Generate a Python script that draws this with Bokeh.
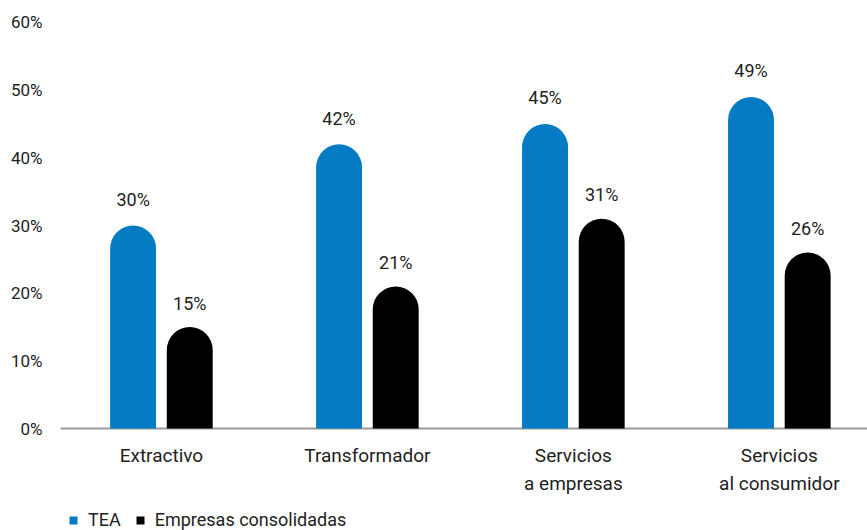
from bokeh.plotting import figure
from bokeh.models import ColumnDataSource, Legend, LegendItem, FixedTicker, Range1d, Span
from bokeh.core.properties import value
from bokeh.embed import file_html
from bokeh.resources import INLINE

categories = ["Extractivo", "Transformador", "Servicios\na empresas", "Servicios\nal consumidor"]
tea = [30, 42, 45, 49]
consolidadas = [15, 21, 31, 26]
y_ticks = [0, 10, 20, 30, 40, 50, 60]
y_tick_labels = ["0%", "10%", "20%", "30%", "40%", "50%", "60%"]
series_names = ["TEA", "Empresas consolidadas"]

BLUE = "#047bc3"
BLACK = "#000000"
TXT = "#222222"
FONT = "Roboto"
OFF = 0.1375
BW = 0.223

pos = list(range(len(categories)))
src = ColumnDataSource(dict(
    xa=[i - OFF for i in pos],
    xb=[i + OFF for i in pos],
    tea=tea,
    cons=consolidadas,
    tea_lbl=[f"{v}%" for v in tea],
    cons_lbl=[f"{v}%" for v in consolidadas],
))
cat_src = ColumnDataSource(dict(x=pos, y=[0] * len(pos), label=categories))

# frame extends to the bottom of the canvas so the legend area lies inside it
p = figure(width=867, height=530, output_backend="svg", toolbar_location=None,
           x_range=Range1d(-0.49, 3.428), y_range=Range1d(-15.07, 61.18),
           min_border_left=60, min_border_right=0, min_border_top=14, min_border_bottom=0)
p.outline_line_color = None
p.grid.visible = False
p.background_fill_color = "white"
p.border_fill_color = "white"
p.xaxis.visible = False

baseline = Span(location=0, dimension="width", line_color="#9a9a9a", line_width=2,
                level="underlay")
p.add_layout(baseline)

r1 = p.vbar(x="xa", top="tea", bottom=0, width=BW, source=src, fill_color=BLUE,
            line_color=None, border_radius=(23, 23, 0, 0))
r2 = p.vbar(x="xb", top="cons", bottom=0, width=BW, source=src, fill_color=BLACK,
            line_color=None, border_radius=(23, 23, 0, 0))

for xcol, ycol, lcol, off in (("xa", "tea", "tea_lbl", -26), ("xb", "cons", "cons_lbl", -24)):
    p.text(x=xcol, y=ycol, text=lcol, source=src, text_align="center",
           text_baseline="alphabetic", y_offset=off, text_color=TXT,
           text_font=value(FONT), text_font_size="18px")

# category labels under the baseline
p.text(x="x", y="y", text="label", source=cat_src, text_align="center",
       text_baseline="top", y_offset=15, text_color=TXT, text_line_height=1.25,
       text_font=value(FONT), text_font_size="19px")

ya = p.yaxis[0]
ya.ticker = FixedTicker(ticks=y_ticks)
ya.major_label_overrides = {t: l for t, l in zip(y_ticks, y_tick_labels)}
ya.axis_line_color = None
ya.major_tick_line_color = None
ya.major_tick_out = 0
ya.major_tick_in = 0
ya.minor_tick_line_color = None
ya.major_label_standoff = 18
ya.major_label_text_font = FONT
ya.major_label_text_font_size = "17px"
ya.major_label_text_color = TXT

legend = Legend(items=[LegendItem(label=series_names[0], renderers=[r1]),
                       LegendItem(label=series_names[1], renderers=[r2])],
                orientation="horizontal", location=(8, 0),
                border_line_color=None, background_fill_alpha=0,
                margin=0, padding=0, glyph_width=10, glyph_height=10,
                label_standoff=10, spacing=14,
                label_text_font=FONT, label_text_font_size="18px",
                label_text_color=TXT)
p.add_layout(legend, "center")

open("out.html", "w").write(file_html(p, INLINE))
